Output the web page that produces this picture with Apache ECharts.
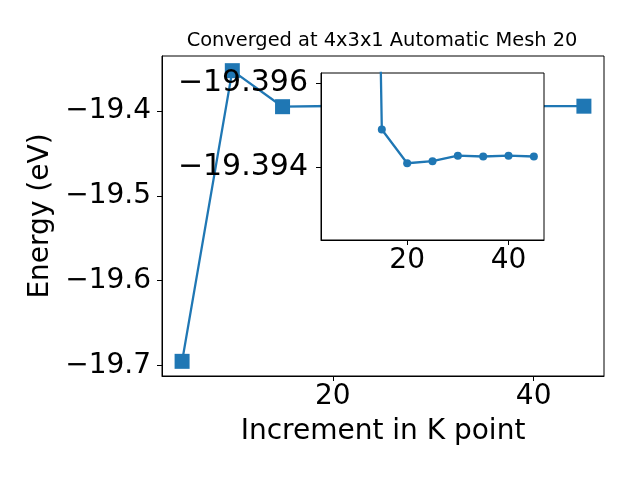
<!DOCTYPE html>
<html>
<head>
<meta charset="utf-8">
<script src="https://cdn.jsdelivr.net/npm/echarts@6/dist/echarts.min.js"></script>
<style>html,body{margin:0;padding:0;background:#fff;}#c{width:640px;height:480px;}</style>
</head>
<body>
<div id="c"></div>
<script>
// ---- data ----
var kPoints = [5, 10, 15, 20, 25, 30, 35, 40, 45];
var energies = [-19.6953, -19.3524, -19.3949, -19.3941, -19.3942, -19.3943, -19.3943, -19.3943, -19.3943];
// inset (zoomed view, inverted y axis as in the reference)
var insetK = [10, 15, 20, 25, 30, 35, 40, 45];
var insetEnergies = [-19.43, -19.3949, -19.3941, -19.39415, -19.39428, -19.39426, -19.39428, -19.39426];
var mainXTicks = [20, 40];
var mainYTicks = [-19.7, -19.6, -19.5, -19.4];
var insetXTicks = [20, 40];
var insetYTicks = [-19.396, -19.394];
var titleText = 'Converged at 4x3x1 Automatic Mesh 20';
var xName = 'Increment in K point';
var yName = 'Energy (eV)';

var FONT = 'DejaVu Sans';
var BLUE = '#1f77b4';
function minus(v, d) { return (v < 0 ? '\u2212' : '') + Math.abs(v).toFixed(d); }
function pairs(xs, ys) { return xs.map(function (x, i) { return [x, ys[i]]; }); }

var chart = echarts.init(document.getElementById('c'), null, {renderer: 'canvas'});
var axisCommon = {
  axisLine: {show: true, onZero: false, lineStyle: {color: '#000', width: 1}},
  splitLine: {show: false}
};
chart.setOption({
  animation: false,
  backgroundColor: '#fff',
  graphic: [{
    type: 'text', x: 382, y: 41, z: 20,
    style: {text: titleText, font: '19.4px "DejaVu Sans"', fill: '#000', align: 'center', verticalAlign: 'middle', textAlign: 'center', textVerticalAlign: 'middle'}
  }],
  grid: [
    {left: 162, top: 56, right: 36, bottom: 104, show: true, borderColor: '#000', borderWidth: 1, backgroundColor: 'transparent', z: 0},
    {left: 321, top: 73, right: 96, bottom: 240, show: true, borderColor: '#000', borderWidth: 1, backgroundColor: '#fff', z: 10}
  ],
  xAxis: [
    Object.assign({}, axisCommon, {
      type: 'value', gridIndex: 0, min: 3, max: 47,
      axisTick: {show: true, inside: false, length: 5, lineStyle: {color: '#000'}, customValues: mainXTicks},
      axisLabel: {customValues: mainXTicks, color: '#000', fontFamily: FONT, fontSize: 28, margin: 7},
      name: xName, nameLocation: 'middle', nameGap: 42,
      nameTextStyle: {color: '#000', fontFamily: FONT, fontSize: 28}
    }),
    Object.assign({}, axisCommon, {
      type: 'value', gridIndex: 1, min: 3, max: 47, z: 11,
      axisTick: {show: true, inside: false, length: 5, lineStyle: {color: '#000'}, customValues: insetXTicks},
      axisLabel: {customValues: insetXTicks, color: '#000', fontFamily: FONT, fontSize: 28, margin: 7}
    })
  ],
  yAxis: [
    Object.assign({}, axisCommon, {
      type: 'value', gridIndex: 0, min: -19.7126, max: -19.3351,
      axisTick: {show: true, inside: false, length: 5, lineStyle: {color: '#000'}, customValues: mainYTicks},
      axisLabel: {customValues: mainYTicks, color: '#000', fontFamily: FONT, fontSize: 28, margin: 11,
        formatter: function (v) { return minus(v, 1); }},
      name: yName, nameLocation: 'middle', nameGap: 95,
      nameTextStyle: {color: '#000', fontFamily: FONT, fontSize: 28}
    }),
    Object.assign({}, axisCommon, {
      type: 'value', gridIndex: 1, inverse: true, min: -19.39624, max: -19.39228, z: 11,
      axisTick: {show: true, inside: false, length: 5, lineStyle: {color: '#000'}, customValues: insetYTicks},
      axisLabel: {customValues: insetYTicks, color: '#000', fontFamily: FONT, fontSize: 30, margin: 13,
        formatter: function (v) { return minus(v, 3); }}
    })
  ],
  series: [
    {
      type: 'line', xAxisIndex: 0, yAxisIndex: 0, z: 2,
      data: pairs(kPoints, energies),
      symbol: 'rect', symbolSize: 15, showSymbol: true, showAllSymbol: true, clip: false,
      lineStyle: {color: BLUE, width: 2.3}, itemStyle: {color: BLUE}
    },
    {
      type: 'line', xAxisIndex: 1, yAxisIndex: 1, z: 12,
      data: pairs(insetK, insetEnergies),
      symbol: 'circle', symbolSize: 8, showSymbol: true, showAllSymbol: true, clip: true,
      lineStyle: {color: BLUE, width: 2.3}, itemStyle: {color: BLUE}
    }
  ]
});
</script>
</body>
</html>
